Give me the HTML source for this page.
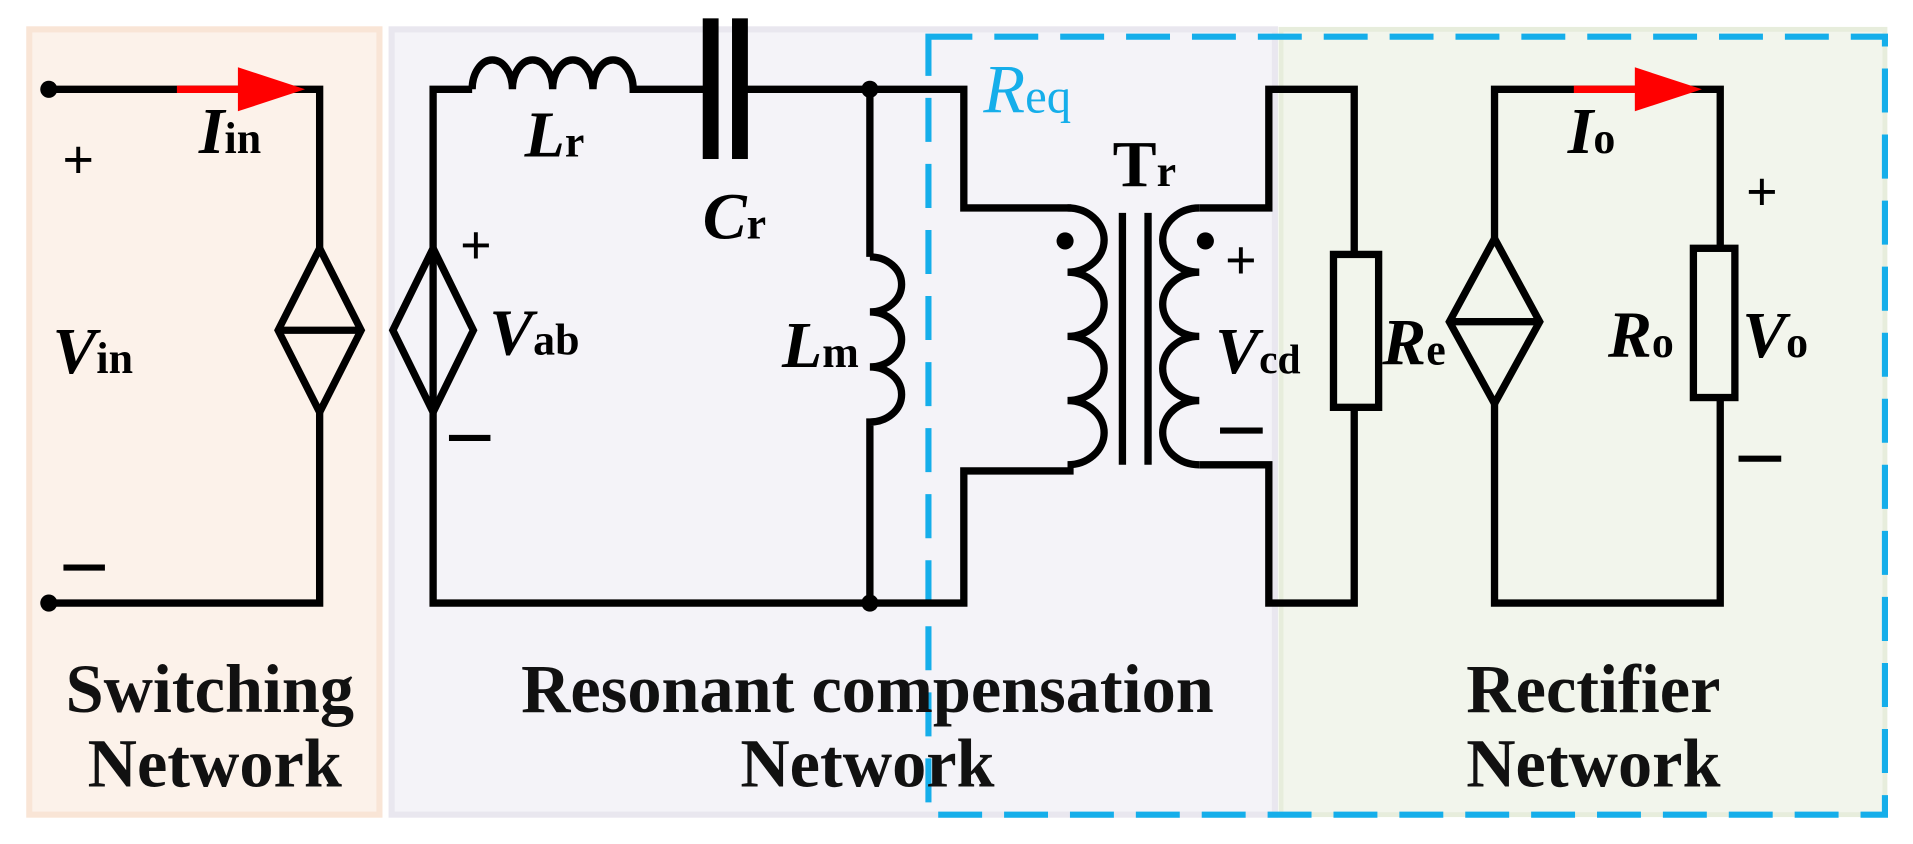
<!DOCTYPE html>
<html><head><meta charset="utf-8"><style>
html,body{margin:0;padding:0;background:#fff;}
svg{display:block;}
text{font-family:"Liberation Serif",serif;}
</style></head><body>
<svg width="1913" height="844" viewBox="0 0 1568 690" preserveAspectRatio="none" xmlns="http://www.w3.org/2000/svg">
<rect x="24" y="24" width="287" height="642" fill="#fcf2ea" stroke="#f9e5d6" stroke-width="5"/>
<rect x="321" y="24" width="724" height="642" fill="#f4f3f8" stroke="#e9e7ef" stroke-width="5"/>
<rect x="1050" y="24" width="495" height="642" fill="#f2f5ec" stroke="#e7eddc" stroke-width="4"/>
<rect x="761" y="30" width="784" height="636" fill="none" stroke="#15aeea" stroke-width="5" stroke-dasharray="36,18"/>

<g fill="none" stroke="#000" stroke-width="6" stroke-linejoin="miter">
<polyline points="40,73 262,73 262,203"/>
<polyline points="262,337 262,493 40,493"/>
<polygon points="262,203 296,270 262,337 228,270"/>
<line x1="228" y1="270" x2="296" y2="270"/>
<polyline points="387,73 355,73 355,493 790,493 790,385 880,385"/>
<polygon points="355,203 388,270 355,337 322,270"/>
<path d="M387,73 a16.5,24 0 0 1 33,0 a16.5,24 0 0 1 33,0 a16.5,24 0 0 1 33,0 a16.5,24 0 0 1 33,0 L583,73"/>
<polyline points="605,73 790,73 790,170 878,170"/>
<polyline points="713,73 713,210"/>
<path d="M713,210 a26,22.5 0 0 1 0,45 a26,22.5 0 0 1 0,45 a26,22.5 0 0 1 0,45 L713,493"/>
<path d="M875,170 a30,26.25 0 0 1 0,52.5 a30,26.25 0 0 1 0,52.5 a30,26.25 0 0 1 0,52.5 a30,26.25 0 0 1 0,52.5 L878,380"/>
<path d="M983,170 a30,26.25 0 0 0 0,52.5 a30,26.25 0 0 0 0,52.5 a30,26.25 0 0 0 0,52.5 a30,26.25 0 0 0 0,52.5"/>
<line x1="920" y1="174" x2="920" y2="380"/>
<line x1="941" y1="174" x2="941" y2="380"/>
<polyline points="983,170 1040,170 1040,73 1110,73 1110,208"/>
<polyline points="983,380 1040,380 1040,493 1110,493 1110,333"/>
<rect x="1093" y="208" width="37" height="125"/>
<polyline points="1225,195 1225,73 1410,73 1410,203"/>
<polyline points="1225,330 1225,493 1410,493 1410,325"/>
<polygon points="1225,195 1262,263 1225,330 1188,263"/>
<line x1="1188" y1="263" x2="1262" y2="263"/>
<rect x="1388" y="203" width="34" height="122"/>
</g>
<rect x="576" y="15" width="13" height="115" fill="#000"/>
<rect x="600" y="15" width="13" height="115" fill="#000"/>
<g fill="#000">
<circle cx="40" cy="73" r="7"/><circle cx="40" cy="493" r="7"/>
<circle cx="713" cy="73" r="7"/><circle cx="713" cy="493" r="7"/>
<circle cx="873" cy="197" r="7"/><circle cx="988" cy="197" r="7"/>
</g>
<line x1="145" y1="73" x2="200" y2="73" stroke="#f00" stroke-width="6"/>
<polygon points="195,55 250,73 195,91" fill="#f00"/>
<line x1="1290" y1="73" x2="1345" y2="73" stroke="#f00" stroke-width="6"/>
<polygon points="1340,55 1395,73 1340,91" fill="#f00"/>
<g font-size="54" fill="#000" font-weight="bold">
<text x="163" y="125" font-style="italic">I<tspan font-style="normal" font-size="36">in</tspan></text>
<text x="43" y="305" font-style="italic">V<tspan font-style="normal" font-size="36">in</tspan></text>
<text x="430" y="128" font-style="italic">L<tspan font-style="normal" font-size="36">r</tspan></text>
<text x="576" y="195" font-style="italic">C<tspan font-style="normal" font-size="36">r</tspan></text>
<text x="401" y="290" font-style="italic">V<tspan font-style="normal" font-size="36">ab</tspan></text>
<text x="641" y="300" font-style="italic">L<tspan font-style="normal" font-size="36">m</tspan></text>
<text x="912" y="152">T<tspan font-size="36">r</tspan></text>
<text x="996" y="305" font-style="italic">V<tspan font-style="normal" font-size="34">cd</tspan></text>
<text x="1133" y="298" font-style="italic">R<tspan font-style="normal" font-size="36">e</tspan></text>
<text x="1285" y="125" font-style="italic">I<tspan font-style="normal" font-size="36">o</tspan></text>
<text x="1318" y="292" font-style="italic">R<tspan font-style="normal" font-size="36">o</tspan></text>
<text x="1428" y="292" font-style="italic">V<tspan font-style="normal" font-size="36">o</tspan></text>
<text x="806" y="92" font-style="italic" fill="#15aeea" font-weight="normal" font-size="56">R<tspan font-style="normal" font-size="40">eq</tspan></text>
</g>
<g font-size="46" font-weight="bold" fill="#000">
<text x="51" y="146">+</text>
<text x="377" y="216">+</text>
<text x="1004" y="228">+</text>
<text x="1431" y="172">+</text>
</g>
<g stroke="#000" stroke-width="5">
<line x1="52" y1="464" x2="86" y2="464"/>
<line x1="368" y1="358" x2="402" y2="358"/>
<line x1="1000" y1="352" x2="1035" y2="352"/>
<line x1="1425" y1="375" x2="1460" y2="375"/>
</g>
<g font-size="56" font-weight="bold" fill="#111" text-anchor="middle">
<text x="172" y="582">Switching</text>
<text x="176" y="643">Network</text>
<text x="711" y="582">Resonant compensation</text>
<text x="711" y="643">Network</text>
<text x="1306" y="582">Rectifier</text>
<text x="1306" y="643">Network</text>
</g>
</svg>
</body></html>
